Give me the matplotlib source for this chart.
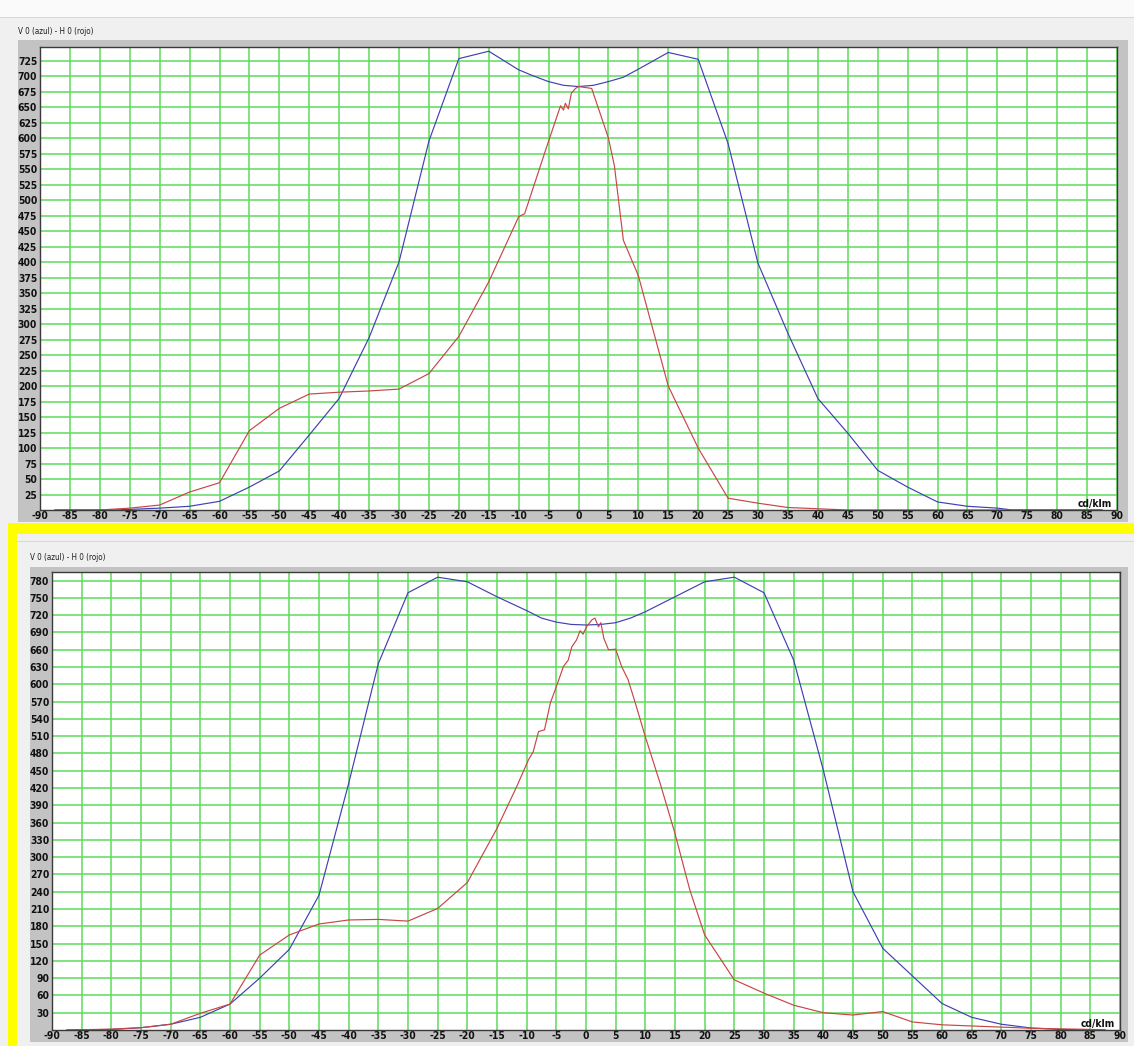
import matplotlib
matplotlib.use("Agg")
import matplotlib.pyplot as plt
from matplotlib.patches import Rectangle
from matplotlib import font_manager

# ---------------- data ----------------
top_v_angles = [-87.5, -77.5, -75, -70, -65, -60, -55, -50, -45, -40, -35, -30, -25, -20, -15,
                -10, -7.5, -5, -2.5, 0, 2.5, 5, 7.5, 10, 15, 20, 25, 30, 35, 40, 45, 50, 55,
                60, 65, 70, 72.5, 87.5]
top_v_values = [0, 0, 1, 3, 6, 14, 37, 63, 121, 180, 278, 400, 595, 728, 740,
                710, 700, 691, 685, 683, 685, 691, 698, 711, 738, 727, 591, 398, 285, 180, 124, 64, 37,
                13, 6, 3, 0, 0]

top_h_angles = [-87.5, -80, -75, -70, -65, -60, -55, -50, -45, -40, -35, -30, -25, -20, -15,
                -10, -9, -5, -3, -2.5, -2.2, -1.7, -1.2, -0.5, 0, 2.2, 5, 6, 7.5, 10, 15, 20,
                25, 30, 35, 40, 45, 87.5]
top_h_values = [0, 0, 3, 8, 29, 44, 128, 164, 187, 190, 192, 195, 220, 280, 368,
                473, 478, 595, 652, 645, 656, 647, 672, 680, 683, 680, 600, 555, 435, 378, 200, 100,
                19, 11, 4, 2, 0, 0]

bot_v_angles = [-87.5, -80, -75, -70, -65, -60, -55, -50, -45, -40, -35, -30, -25, -20, -15,
                -10, -7.5, -5, -2.5, 0, 2.5, 5, 7.5, 10, 15, 20, 25, 30, 35, 40, 45, 50, 55,
                60, 65, 70, 75, 80, 85, 87.5]
bot_v_values = [0, 1, 4, 10, 22, 45, 90, 140, 234, 428, 636, 759, 786, 778, 752,
                728, 715, 708, 704, 703, 704, 707, 715, 726, 752, 778, 786, 759, 642, 451, 240, 142, 94,
                46, 22, 10, 3.5, 1, 0, 0]

bot_h_angles = [-87.5, -80, -75, -70, -65, -60, -55, -50, -45, -40, -35, -30, -25, -20, -15,
                -11.7, -9.7, -8.9, -8.0, -7.0, -6.0, -5.0, -3.8, -3.0, -2.4, -1.6, -1.0, -0.5,
                0.1, 1.0, 1.5, 2.1, 2.5, 3.0, 3.8, 5.0, 6.0, 7.1, 8.5, 10, 12.5, 15, 17.5, 20,
                25, 30, 35, 40, 45, 50, 55, 60, 65, 70, 75, 80, 85, 87.5]
bot_h_values = [0, 1.5, 4, 10, 29, 45, 130, 165, 184, 191, 192, 189, 211, 256, 350,
                422, 469, 483, 518, 521, 568, 596, 631, 642, 665, 677, 693, 687,
                700, 712, 715, 700, 707, 680, 660, 661, 631, 608, 561, 509, 428, 341, 243, 165,
                87, 64, 43, 30, 26, 32, 14, 9, 7, 5, 3, 2, 1, 0]

x_ticks = list(range(-90, 91, 5))
top_y_ticks = list(range(25, 726, 25))
bot_y_ticks = list(range(30, 781, 30))
title_text = "V 0 (azul) - H 0 (rojo)"
unit_text = "cd/klm"

# ---------------- fonts ----------------
names = {f.name for f in font_manager.fontManager.ttflist}
if "Liberation Sans Narrow" in names:
    TICK_FONT = dict(family="Liberation Sans Narrow", fontweight="bold", fontsize=8.6)
    TITLE_FONT = dict(family="Liberation Sans Narrow", fontsize=6.9)
else:
    TICK_FONT = dict(family="DejaVu Sans", fontstretch="condensed", fontweight="bold", fontsize=7.4)
    TITLE_FONT = dict(family="DejaVu Sans", fontstretch="condensed", fontsize=5.8)

W, H, DPI = 1134, 1046, 100
fig = plt.figure(figsize=(W / DPI, H / DPI), dpi=DPI, facecolor="#f0f0f0")


def fx(x):
    return x / W


def fy(y):
    return 1 - y / H


def rect(x0, y0, x1, y1, color):
    fig.patches.append(Rectangle((fx(x0), fy(y1)), (x1 - x0) / W, (y1 - y0) / H,
                                 transform=fig.transFigure, facecolor=color,
                                 edgecolor="none", zorder=-5))


# background pieces
rect(0, 0, W, 17, "#fafafa")
rect(0, 17, W, 18, "#d6d6d6")
rect(18, 40, 1128, 522, "#c3c3c3")
rect(8, 523, W, 534, "#ffff00")
rect(8, 523, 17, H, "#ffff00")
rect(17, 541, W, 542, "#d8d8d8")
rect(30, 567, 1128, 1042, "#c3c3c3")

GRID = "#62dc62"
BLUE = "#4040b4"
RED = "#c84646"


def make_panel(box, ymax, yticks, v_ang, v_val, h_ang, h_val, title_xy):
    left, top, right, bottom = box
    ax = fig.add_axes([fx(left), fy(bottom), (right - left) / W, (bottom - top) / H])
    ax.set_facecolor("white")
    ax.set_xlim(-90, 90)
    ax.set_ylim(0, ymax)
    for v in x_ticks:
        ax.axvline(v, color=GRID, lw=1.15, zorder=1)
    for v in yticks:
        ax.axhline(v, color=GRID, lw=1.15, zorder=1)
    ax.plot(v_ang, v_val, color=BLUE, lw=0.85, zorder=3)
    ax.plot(h_ang, h_val, color=RED, lw=0.85, zorder=4)
    ax.set_xticks(x_ticks)
    ax.set_xticklabels([str(t) for t in x_ticks], **TICK_FONT)
    ax.set_yticks(yticks)
    ax.set_yticklabels([str(t) for t in yticks], **TICK_FONT)
    ax.tick_params(axis="both", length=0, colors="#101010")
    ax.tick_params(axis="x", pad=1.0)
    ax.tick_params(axis="y", pad=2)
    for s in ax.spines.values():
        s.set_color("#3a3a3a")
        s.set_linewidth(1.0)
        s.set_zorder(6)
    ax.text(0.995, 0.002, unit_text, transform=ax.transAxes, ha="right", va="bottom",
            color="#101010", zorder=7, **TICK_FONT)
    fig.text(fx(title_xy[0]), fy(title_xy[1]), title_text, ha="left", va="center",
             color="#202020", **TITLE_FONT)
    return ax


make_panel((40, 46.5, 1117, 510), 747.6, top_y_ticks,
           top_v_angles, top_v_values, top_h_angles, top_h_values, (18, 32))
make_panel((52, 572, 1120, 1030), 795, bot_y_ticks,
           bot_v_angles, bot_v_values, bot_h_angles, bot_h_values, (30, 558))

fig.savefig("out.png", dpi=DPI, facecolor=fig.get_facecolor())
